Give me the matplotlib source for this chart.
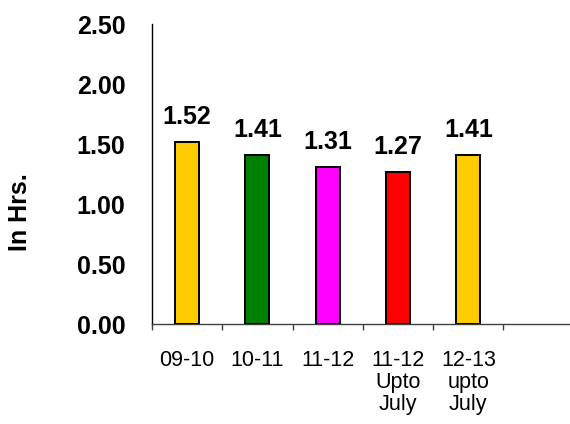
import matplotlib
matplotlib.use("Agg")
import matplotlib.pyplot as plt
import numpy as np

plt.rcParams['font.family'] = ['Liberation Sans', 'DejaVu Sans']

categories = ["09-10", "10-11", "11-12", "11-12\nUpto\nJuly", "12-13\nupto\nJuly"]
values = [1.52, 1.41, 1.31, 1.27, 1.41]
colors = ["#FFCC00", "#008000", "#FF00FF", "#FF0000", "#FFCC00"]
yticks = [0.0, 0.5, 1.0, 1.5, 2.0, 2.5]
n_slots = 6

W, H = 570, 424
fig = plt.figure(figsize=(W/100, H/100), dpi=100)
ax = fig.add_axes([152/W, (H-324)/H, 1 - 152/W, 300/H])

x = np.arange(len(values))
ax.bar(x, values, width=0.34, color=colors, edgecolor='black', linewidth=1.4, zorder=3)

for xi, v in zip(x, values):
    ax.annotate(f"{v:.2f}", (xi, v), xytext=(0, 12.5), textcoords='offset points',
                ha='center', va='baseline', fontsize=18, fontweight='bold')

ax.set_ylim(0, 2.5)
ax.set_xlim(-0.5, -0.5 + 418/70.3)
ax.set_yticks(yticks)
ax.set_yticklabels([f"{t:.2f}" for t in yticks], fontsize=18, fontweight='bold')
ax.tick_params(axis='y', length=0, pad=19)

ax.set_xticks(np.arange(n_slots) - 0.5)
ax.set_xticklabels([])
ax.tick_params(axis='x', which='major', length=4.5, width=1, direction='out', color='#404040')
ax.set_xticks(x, minor=True)
ax.set_xticklabels(categories, minor=True, fontsize=15.5, linespacing=1.05)
ax.tick_params(axis='x', which='minor', length=0, pad=19)

for s in ['top', 'right']:
    ax.spines[s].set_visible(False)
ax.spines['left'].set_color('black')
ax.spines['left'].set_linewidth(1)
ax.spines['bottom'].set_color('#404040')
ax.spines['bottom'].set_linewidth(1)

fig.text(20/W, 1 - 212/H, "In Hrs.", rotation=90, ha='center', va='center',
         fontsize=18, fontweight='bold')

fig.savefig("out.png", dpi=100)
